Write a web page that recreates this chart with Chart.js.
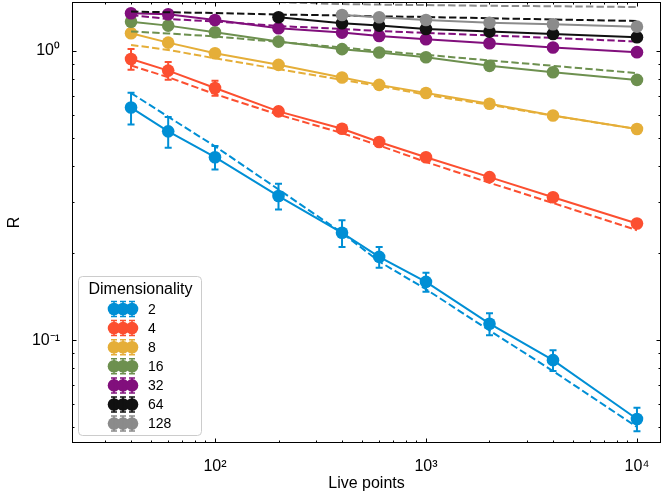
<!DOCTYPE html>
<html lang="en">
<head>
<meta charset="UTF-8">
<title>R vs live points</title>
<script src="https://cdn.jsdelivr.net/npm/chart.js"></script>
<style>
  html, body { margin: 0; padding: 0; background: #fff; }
  .chart-box { width: 661px; height: 497px; position: relative; }
</style>
</head>
<body>
<div class="chart-box"><canvas id="rChart"></canvas></div>
<script>
// x positions shared by every series
const livePoints = [40, 60, 100, 200, 400, 600, 1000, 2000, 4000, 10000];
const dimensions = ['2', '4', '8', '16', '32', '64', '128'];
const colors = ['#008fd5', '#fc4f30', '#e5ae38', '#6d904f', '#810f7c', '#111111', '#8b8b8b'];

// measured R (solid, with error bars)
const r2 = [0.637, 0.527, 0.429, 0.315, 0.235, 0.194, 0.159, 0.114, 0.0853, 0.0534];
const r4 = [0.938, 0.855, 0.744, 0.618, 0.538, 0.484, 0.429, 0.366, 0.312, 0.253];
const r8 = [1.151, 1.068, 0.982, 0.895, 0.809, 0.763, 0.715, 0.657, 0.598, 0.537];
const r16 = [1.262, 1.223, 1.160, 1.077, 1.014, 0.987, 0.951, 0.888, 0.844, 0.794];
const r32 = [1.349, 1.339, 1.279, 1.198, 1.157, 1.126, 1.097, 1.063, 1.027, 0.990];
const r64 = [null, null, null, 1.307, 1.246, 1.223, 1.191, 1.166, 1.144, 1.115];
const r128 = [null, null, null, null, 1.331, 1.307, 1.279, 1.252, 1.236, 1.213];

// error bar half-widths
const e2 = [0.080, 0.064, 0.040, 0.032, 0.025, 0.016, 0.012, 0.010, 0.007, 0.005];
const e4 = [0.078, 0.060, 0.044, 0.020, 0.015, 0.012, 0.010, 0.006, 0.005, 0.004];
const e8 = [0.035, 0.025, 0.015, 0.010, 0.008, 0.006, 0.005, 0.004, 0.004, 0.003];
const e16 = [0.020, 0.015, 0.010, 0.010, 0.008, 0.006, 0.005, 0.004, 0.004, 0.003];
const e32 = [0.015, 0.012, 0.010, 0.008, 0.007, 0.006, 0.005, 0.004, 0.004, 0.003];
const e64 = [null, null, null, 0.010, 0.008, 0.006, 0.005, 0.004, 0.004, 0.003];
const e128 = [null, null, null, null, 0.010, 0.008, 0.006, 0.005, 0.004, 0.003];

// dashed reference curves
const f2 = [0.715, 0.592, 0.468, 0.332, 0.235, 0.187, 0.150, 0.108, 0.0782, 0.0501];
const f4 = [0.890, 0.811, 0.709, 0.602, 0.520, 0.471, 0.413, 0.350, 0.298, 0.240];
const f8 = [1.049, 1.008, 0.943, 0.865, 0.794, 0.757, 0.705, 0.651, 0.597, 0.537];
const f16 = [1.168, 1.149, 1.122, 1.074, 1.028, 1.000, 0.969, 0.927, 0.888, 0.838];
const f32 = [1.331, 1.289, 1.264, 1.219, 1.191, 1.172, 1.154, 1.131, 1.109, 1.077];
const f64 = [1.368, 1.360, 1.352, 1.336, 1.326, 1.317, 1.310, 1.297, 1.284, 1.269];
const f128 = [null, null, 1.500, 1.475, 1.452, 1.446, 1.440, 1.432, 1.427, 1.418];

const xTickValues = [100, 1000, 10000];
const xTickLabels = ['10²', '10³', '10⁴'];
const yTickValues = [0.1, 1];
const yTickLabels = ['10⁻¹', '10⁰'];

const measured = [r2, r4, r8, r16, r32, r64, r128];
const errors = [e2, e4, e8, e16, e32, e64, e128];
const fits = [f2, f4, f8, f16, f32, f64, f128];

const FONT = '"Liberation Sans", Arial, Helvetica, sans-serif';

function toPoints(values) {
    return livePoints.map((x, i) => ({ x: x, y: values[i] }));
}

function matchTick(value, list, labels) {
    for (let i = 0; i < list.length; i++) {
        if (Math.abs(Math.log10(value) - Math.log10(list[i])) < 1e-6) return labels[i];
    }
    return '';
}

// keep the plot area fixed: no extra room for half-labels at the ends
function fixBox(s, size) {
    if (s.isHorizontal()) s.height = size; else s.width = size;
    s.paddingTop = 0;
    s.paddingBottom = 0;
    s.paddingLeft = 0;
    s.paddingRight = 0;
}

const datasets = [];
dimensions.forEach((dim, i) => {
    datasets.push({
        label: dim,
        data: toPoints(measured[i]),
        errorBars: errors[i],
        borderColor: colors[i],
        backgroundColor: colors[i],
        borderWidth: 2,
        pointRadius: 6.3,
        pointBorderWidth: 0,
        pointBackgroundColor: colors[i]
    });
    datasets.push({
        label: dim + ' fit',
        data: toPoints(fits[i]),
        borderColor: colors[i],
        borderWidth: 2,
        borderDash: [7.4, 3.2],
        pointRadius: 0
    });
});
// later series on top, like the original
datasets.forEach((ds, i) => { ds.order = datasets.length - i; });

const errorBarPlugin = {
    id: 'errorBars',
    beforeDatasetDraw(chart, args) {
        const ds = chart.data.datasets[args.index];
        if (!ds.errorBars) return;
        const { ctx, chartArea: a } = chart;
        const yScale = chart.scales.y;
        ctx.save();
        ctx.beginPath();
        ctx.rect(a.left, a.top, a.right - a.left, a.bottom - a.top);
        ctx.clip();
        ctx.strokeStyle = ds.borderColor;
        ctx.lineWidth = 2;
        args.meta.data.forEach((pt, i) => {
            const v = ds.data[i].y;
            const e = ds.errorBars[i];
            if (v == null || e == null) return;
            const top = yScale.getPixelForValue(v + e);
            const bot = yScale.getPixelForValue(v - e);
            ctx.beginPath();
            ctx.moveTo(pt.x, top); ctx.lineTo(pt.x, bot);
            ctx.moveTo(pt.x - 3.5, top); ctx.lineTo(pt.x + 3.5, top);
            ctx.moveTo(pt.x - 3.5, bot); ctx.lineTo(pt.x + 3.5, bot);
            ctx.stroke();
        });
        ctx.restore();
    }
};

// frame with inward ticks on all four sides
const framePlugin = {
    id: 'frame',
    afterDraw(chart) {
        const { ctx, chartArea: a, scales } = chart;
        ctx.save();
        ctx.strokeStyle = '#000';
        ctx.lineWidth = 1;
        ctx.strokeRect(a.left + 0.5, a.top + 0.5, a.right - a.left - 1, a.bottom - a.top - 1);

        function tickLen(v) {
            const m = v / Math.pow(10, Math.floor(Math.log10(v) + 1e-9));
            if (Math.abs(m - 1) < 1e-6) return 4.5;
            if (Math.abs(m - Math.round(m)) < 1e-6) return 2.5;
            return 0;
        }
        ctx.beginPath();
        scales.x.ticks.forEach(t => {
            const len = tickLen(t.value);
            if (!len) return;
            const px = Math.round(scales.x.getPixelForValue(t.value)) + 0.5;
            if (px < a.left || px > a.right) return;
            ctx.moveTo(px, a.bottom); ctx.lineTo(px, a.bottom - len);
            ctx.moveTo(px, a.top); ctx.lineTo(px, a.top + len);
        });
        scales.y.ticks.forEach(t => {
            const len = tickLen(t.value);
            if (!len) return;
            const py = Math.round(scales.y.getPixelForValue(t.value)) + 0.5;
            if (py < a.top || py > a.bottom) return;
            ctx.moveTo(a.left, py); ctx.lineTo(a.left + len, py);
            ctx.moveTo(a.right, py); ctx.lineTo(a.right - len, py);
        });
        ctx.stroke();
        ctx.restore();
    }
};

// legend box in the lower left corner of the plot
const legendPlugin = {
    id: 'dimLegend',
    afterDraw(chart) {
        const { ctx, chartArea: a } = chart;
        const left = a.left + 6, w = 123, h = 159;
        const top = a.bottom - 8 - h;
        ctx.save();
        ctx.beginPath();
        ctx.roundRect(left + 0.5, top + 0.5, w, h, 4);
        ctx.fillStyle = 'rgba(255,255,255,0.85)';
        ctx.fill();
        ctx.strokeStyle = '#cccccc';
        ctx.lineWidth = 1;
        ctx.stroke();

        ctx.fillStyle = '#000';
        ctx.font = '16px ' + FONT;
        ctx.textAlign = 'center';
        ctx.textBaseline = 'alphabetic';
        ctx.fillText('Dimensionality', left + w / 2 + 1, top + 18);

        ctx.font = '14px ' + FONT;
        ctx.textAlign = 'left';
        ctx.textBaseline = 'middle';
        dimensions.forEach((dim, i) => {
            const cy = top + 33 + i * 19.1;
            ctx.fillStyle = colors[i];
            ctx.strokeStyle = colors[i];
            ctx.lineWidth = 1.5;
            [left + 36, left + 45, left + 54].forEach(cx => {
                ctx.beginPath();
                ctx.arc(cx, cy, 6.3, 0, Math.PI * 2);
                ctx.fill();
                ctx.beginPath();
                ctx.moveTo(cx - 3, cy - 7.5); ctx.lineTo(cx + 3, cy - 7.5);
                ctx.moveTo(cx - 3, cy + 7.5); ctx.lineTo(cx + 3, cy + 7.5);
                ctx.moveTo(cx, cy - 7.5); ctx.lineTo(cx, cy + 7.5);
                ctx.stroke();
            });
            ctx.fillStyle = '#000';
            ctx.fillText(dim, left + 70, cy + 1);
        });
        ctx.restore();
    }
};

new Chart(document.getElementById('rChart'), {
    type: 'line',
    data: { datasets: datasets },
    options: {
        responsive: true,
        maintainAspectRatio: false,
        animation: false,
        layout: { autoPadding: false, padding: { top: 2, right: 0, left: 0, bottom: 0 } },
        plugins: {
            legend: { display: false },
            tooltip: { enabled: false }
        },
        scales: {
            x: {
                type: 'logarithmic',
                min: 21,
                max: 13000,
                grid: { display: false, drawTicks: false },
                border: { display: false },
                ticks: {
                    autoSkip: false,
                    maxRotation: 0,
                    padding: 14,
                    color: '#000',
                    font: { family: FONT, size: 16 },
                    callback: v => matchTick(v, xTickValues, xTickLabels)
                },
                title: {
                    display: true,
                    text: 'Live points',
                    color: '#000',
                    font: { family: FONT, size: 16 },
                    padding: { top: 0, bottom: 4 }
                },
                afterFit: s => fixBox(s, 54)
            },
            y: {
                type: 'logarithmic',
                min: 0.0441,
                max: 1.476,
                grid: { display: false, drawTicks: false },
                border: { display: false },
                ticks: {
                    autoSkip: false,
                    padding: 12,
                    color: '#000',
                    font: { family: FONT, size: 16 },
                    callback: v => matchTick(v, yTickValues, yTickLabels)
                },
                title: {
                    display: true,
                    text: 'R',
                    color: '#000',
                    font: { family: FONT, size: 16 },
                    padding: { top: 5, bottom: 4 }
                },
                afterFit: s => fixBox(s, 72)
            }
        }
    },
    plugins: [errorBarPlugin, framePlugin, legendPlugin]
});
</script>
</body>
</html>
